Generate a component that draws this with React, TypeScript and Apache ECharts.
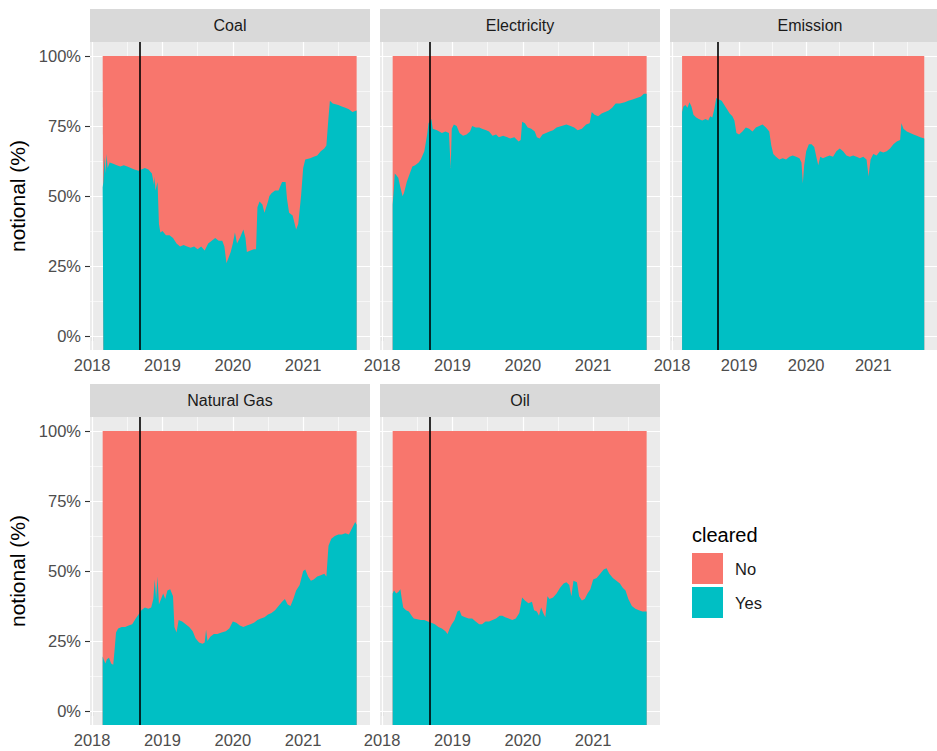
import React, { useEffect, useRef } from "react";
import * as echarts from "echarts";

// ---------- data ----------
const panelNames = ["Coal", "Electricity", "Emission", "Natural Gas", "Oil"];
const legendNames = ["No", "Yes"];
const legendTitle = "cleared";
const yAxisTitle = "notional (%)";
const yearTicks = [2018, 2019, 2020, 2021];
const yearMinor = [2018.5, 2019.5, 2020.5, 2021.5];
const pctTicks = [0, 25, 50, 75, 100];
const pctMinor = [12.5, 37.5, 62.5, 87.5];
const eventYear = 2018.68;

// share of notional that was cleared ("Yes"), [decimal year, %]
const coalYes: [number, number][] = [
  [2018.15, 53], [2018.16, 55], [2018.175, 64], [2018.19, 58], [2018.205, 65], [2018.22, 60],
  [2018.25, 62], [2018.3, 61.5], [2018.35, 61], [2018.4, 60.5], [2018.45, 61], [2018.5, 60.5],
  [2018.55, 60], [2018.6, 59.5], [2018.66, 59], [2018.7, 59.5], [2018.75, 60], [2018.8, 59.5],
  [2018.85, 58], [2018.88, 54], [2018.89, 57], [2018.9, 52], [2018.93, 55], [2018.95, 40],
  [2018.97, 37], [2019.0, 37.5], [2019.05, 36], [2019.1, 36], [2019.15, 35], [2019.2, 33],
  [2019.25, 32], [2019.3, 32.5], [2019.35, 32], [2019.4, 31.5], [2019.45, 32], [2019.5, 31],
  [2019.55, 32], [2019.6, 30.5], [2019.65, 33], [2019.7, 34], [2019.75, 35], [2019.8, 34],
  [2019.85, 34], [2019.88, 32], [2019.91, 26], [2019.94, 28], [2019.97, 30], [2020.0, 33],
  [2020.03, 37], [2020.06, 33], [2020.1, 35], [2020.15, 38], [2020.18, 35], [2020.2, 30],
  [2020.25, 30.5], [2020.3, 31], [2020.33, 31], [2020.35, 46], [2020.38, 48], [2020.42, 47],
  [2020.45, 44], [2020.5, 48], [2020.52, 50], [2020.55, 51], [2020.6, 52], [2020.65, 52],
  [2020.7, 55], [2020.75, 55], [2020.77, 49], [2020.8, 44], [2020.85, 43], [2020.9, 38],
  [2020.93, 40], [2020.97, 50], [2021.0, 60], [2021.03, 63], [2021.1, 63.5], [2021.15, 64],
  [2021.2, 64.5], [2021.25, 66], [2021.3, 67], [2021.33, 68], [2021.36, 78], [2021.38, 84],
  [2021.42, 83], [2021.5, 82.5], [2021.55, 82], [2021.6, 81.5], [2021.65, 81], [2021.7, 80],
  [2021.76, 80.5],
];

const electricityYes: [number, number][] = [
  [2018.15, 47], [2018.165, 52], [2018.18, 58], [2018.2, 57.5], [2018.23, 56.5], [2018.26, 53],
  [2018.29, 50], [2018.31, 51], [2018.35, 55], [2018.4, 58.5], [2018.43, 60.5], [2018.47, 61],
  [2018.52, 62], [2018.55, 63], [2018.6, 66], [2018.64, 72], [2018.66, 76], [2018.7, 77.5],
  [2018.72, 74], [2018.78, 73.5], [2018.85, 72.5], [2018.9, 73], [2018.95, 72.5], [2018.975, 60],
  [2018.99, 74], [2019.02, 75.5], [2019.06, 75], [2019.1, 72.5], [2019.15, 71.5], [2019.2, 72],
  [2019.25, 73], [2019.28, 75], [2019.33, 74.5], [2019.38, 74.5], [2019.42, 74], [2019.48, 73.5],
  [2019.52, 73], [2019.57, 71.5], [2019.62, 72], [2019.66, 71], [2019.72, 71.5], [2019.78, 71],
  [2019.82, 70.5], [2019.88, 71], [2019.94, 69.5], [2019.97, 70], [2019.99, 76.5], [2020.03, 76],
  [2020.07, 74.5], [2020.12, 74], [2020.17, 73], [2020.2, 71], [2020.24, 70.5], [2020.28, 72],
  [2020.33, 72.5], [2020.38, 73], [2020.43, 73.5], [2020.48, 74.5], [2020.55, 75], [2020.62, 75.5],
  [2020.68, 75], [2020.73, 74.5], [2020.78, 73.5], [2020.84, 74], [2020.9, 75.5], [2020.95, 76],
  [2020.98, 80], [2021.02, 79], [2021.07, 78.5], [2021.12, 79.5], [2021.17, 80], [2021.22, 80.5],
  [2021.27, 81.5], [2021.32, 83], [2021.38, 83], [2021.45, 83.5], [2021.5, 84], [2021.56, 84.5],
  [2021.62, 85], [2021.68, 85.5], [2021.72, 86.5], [2021.76, 86.5],
];

const emissionYes: [number, number][] = [
  [2018.15, 80], [2018.17, 82], [2018.2, 82.5], [2018.23, 81.5], [2018.26, 83.5], [2018.29, 82],
  [2018.32, 79], [2018.36, 78], [2018.4, 77.5], [2018.45, 77], [2018.5, 77.5], [2018.54, 77],
  [2018.57, 78.5], [2018.6, 78], [2018.63, 81], [2018.66, 85], [2018.7, 84.5], [2018.74, 84],
  [2018.78, 82.5], [2018.82, 81], [2018.86, 79.5], [2018.9, 78.5], [2018.93, 77], [2018.96, 72.5],
  [2019.0, 72], [2019.05, 73], [2019.1, 74.5], [2019.15, 74], [2019.2, 73], [2019.25, 74.5],
  [2019.3, 75], [2019.35, 75.5], [2019.4, 74.5], [2019.45, 73], [2019.48, 68], [2019.51, 65],
  [2019.55, 64], [2019.6, 63], [2019.65, 63.5], [2019.7, 63], [2019.75, 64], [2019.8, 64.5],
  [2019.85, 64], [2019.9, 63.5], [2019.93, 62], [2019.95, 54.5], [2019.97, 61], [2020.0, 66],
  [2020.04, 68.5], [2020.08, 68.5], [2020.12, 67.5], [2020.16, 63], [2020.18, 61], [2020.21, 64],
  [2020.25, 63.5], [2020.3, 64], [2020.35, 64.5], [2020.4, 64], [2020.45, 66], [2020.5, 67],
  [2020.55, 66], [2020.6, 64.5], [2020.65, 64], [2020.7, 64.5], [2020.75, 64], [2020.8, 63.5],
  [2020.85, 64], [2020.9, 63], [2020.93, 57], [2020.96, 63], [2021.0, 65], [2021.05, 64.5],
  [2021.1, 66], [2021.15, 65.5], [2021.2, 66], [2021.25, 67], [2021.3, 68.5], [2021.35, 69.5],
  [2021.4, 70], [2021.42, 76], [2021.45, 74], [2021.5, 73], [2021.55, 72.5], [2021.6, 72],
  [2021.65, 71.5], [2021.7, 71], [2021.76, 70.5],
];

const naturalGasYes: [number, number][] = [
  [2018.15, 19.5], [2018.17, 18], [2018.19, 17], [2018.21, 18.5], [2018.24, 19], [2018.27, 17],
  [2018.3, 16.5], [2018.32, 22], [2018.34, 28], [2018.37, 29.5], [2018.42, 30], [2018.47, 30],
  [2018.52, 30.5], [2018.57, 31], [2018.62, 33], [2018.66, 34.5], [2018.7, 36], [2018.75, 37],
  [2018.8, 36.5], [2018.84, 37], [2018.87, 40], [2018.89, 47], [2018.91, 40], [2018.93, 48],
  [2018.95, 38], [2018.98, 40], [2019.01, 42], [2019.04, 40], [2019.07, 43], [2019.11, 43.5],
  [2019.15, 41], [2019.17, 30], [2019.2, 28], [2019.23, 32.5], [2019.28, 32], [2019.33, 31],
  [2019.38, 30], [2019.43, 28.5], [2019.47, 26], [2019.52, 24.5], [2019.57, 24], [2019.6, 24.5],
  [2019.62, 29], [2019.64, 25], [2019.68, 26.5], [2019.73, 27.5], [2019.78, 27.5], [2019.84, 28],
  [2019.9, 28.5], [2019.95, 29.5], [2020.0, 32], [2020.05, 31.5], [2020.1, 30.5], [2020.15, 30],
  [2020.2, 30.5], [2020.25, 31], [2020.3, 31.5], [2020.35, 32.5], [2020.4, 33], [2020.45, 33.5],
  [2020.5, 34.5], [2020.55, 35], [2020.6, 36], [2020.65, 37.5], [2020.7, 39], [2020.74, 40],
  [2020.78, 38], [2020.82, 37.5], [2020.86, 40], [2020.9, 43], [2020.95, 45], [2021.0, 50],
  [2021.03, 50.5], [2021.07, 48], [2021.11, 46.5], [2021.15, 47], [2021.2, 48], [2021.25, 48.5],
  [2021.3, 49], [2021.33, 48], [2021.36, 59], [2021.4, 61.5], [2021.45, 62.5], [2021.5, 63],
  [2021.55, 63], [2021.6, 63.5], [2021.65, 63], [2021.7, 65.5], [2021.74, 67.5], [2021.76, 66.5],
];

const oilYes: [number, number][] = [
  [2018.15, 42], [2018.17, 43], [2018.2, 42], [2018.23, 42.5], [2018.26, 43.5], [2018.28, 40],
  [2018.3, 37], [2018.34, 36], [2018.38, 35.5], [2018.42, 34], [2018.45, 33], [2018.5, 32.8],
  [2018.55, 32.5], [2018.6, 32.5], [2018.65, 32], [2018.7, 31.5], [2018.75, 31], [2018.8, 30],
  [2018.85, 29.5], [2018.9, 28.5], [2018.93, 27.5], [2018.96, 29.5], [2018.99, 31], [2019.03, 32.5],
  [2019.07, 35.5], [2019.1, 36], [2019.13, 34], [2019.18, 33.5], [2019.23, 33], [2019.28, 33],
  [2019.33, 32], [2019.38, 31], [2019.42, 31], [2019.47, 32], [2019.52, 32], [2019.57, 32.5],
  [2019.62, 33], [2019.67, 34], [2019.71, 34], [2019.75, 33.5], [2019.8, 33], [2019.85, 32.5],
  [2019.9, 33], [2019.95, 35], [2019.99, 40.5], [2020.03, 39.5], [2020.08, 38.5], [2020.13, 39],
  [2020.16, 36], [2020.2, 35.5], [2020.23, 34], [2020.26, 37], [2020.29, 35], [2020.32, 33.5],
  [2020.35, 41], [2020.38, 40], [2020.43, 40.5], [2020.48, 42], [2020.53, 44], [2020.58, 45.5],
  [2020.62, 46], [2020.66, 45], [2020.69, 41], [2020.72, 46.5], [2020.77, 46], [2020.8, 41],
  [2020.84, 39.5], [2020.88, 40], [2020.92, 42], [2020.96, 43.5], [2021.0, 47], [2021.05, 47.5],
  [2021.1, 49], [2021.15, 50.5], [2021.19, 51], [2021.23, 49], [2021.28, 47.5], [2021.33, 46.5],
  [2021.38, 45.5], [2021.42, 44], [2021.46, 43], [2021.5, 40], [2021.55, 37.5], [2021.6, 36.5],
  [2021.65, 36], [2021.7, 35.5], [2021.76, 35.5],
];

const panelData = [coalYes, electricityYes, emissionYes, naturalGasYes, oilYes];

// ---------- layout / style ----------
const COL_LEFT = [90, 380, 670];
const ROW_TOP = [42, 417];
const PANEL_W = 280;
const PANEL_H = 308;
const STRIP_H = 33;
const COLOR_NO = "#F8766D";
const COLOR_YES = "#00BFC4";
const FONT = "'Liberation Sans', Arial, Helvetica, sans-serif";

export default function App() {
  const ref = useRef<HTMLDivElement>(null);

  useEffect(() => {
    if (!ref.current) return;
    const chart = echarts.init(ref.current, undefined, { renderer: "svg" });

    const grids: any[] = [];
    const xAxes: any[] = [];
    const yAxes: any[] = [];
    const series: any[] = [];
    const graphics: any[] = [];

    panelNames.forEach((name, i) => {
      const col = i % 3;
      const row = Math.floor(i / 3);
      const left = COL_LEFT[col];
      const top = ROW_TOP[row];
      grids.push({
        left,
        top,
        width: PANEL_W,
        height: PANEL_H,
        show: true,
        backgroundColor: "#EBEBEB",
        borderWidth: 0,
        containLabel: false,
      });
      xAxes.push({
        type: "value",
        gridIndex: i,
        min: 2017.97,
        max: 2021.95,
        axisLine: { show: false },
        splitLine: { show: false },
        axisTick: {
          show: true,
          customValues: yearTicks,
          length: 5,
          lineStyle: { color: "#333333", width: 1.1 },
        },
        axisLabel: {
          show: true,
          customValues: yearTicks,
          formatter: (v: number) => String(Math.round(v)),
          color: "#4D4D4D",
          fontSize: 16.5,
          fontFamily: FONT,
          margin: 6,
        },
      });
      const isLeft = col === 0;
      yAxes.push({
        type: "value",
        gridIndex: i,
        min: -5,
        max: 105,
        axisLine: { show: false },
        splitLine: { show: false },
        axisTick: {
          show: isLeft,
          customValues: pctTicks,
          length: 5,
          lineStyle: { color: "#333333", width: 1.1 },
        },
        axisLabel: {
          show: isLeft,
          customValues: pctTicks,
          formatter: (v: number) => `${v}%`,
          color: "#4D4D4D",
          fontSize: 16.5,
          fontFamily: FONT,
          margin: 9,
        },
        name: isLeft ? yAxisTitle : "",
        nameLocation: "middle",
        nameRotate: 90,
        nameGap: 62,
        nameTextStyle: { fontSize: 21, color: "#000000", fontFamily: FONT },
      });

      const yes = panelData[i];
      const no = yes.map(([x, y]) => [x, 100 - y]);
      // top edge of the "No" band = Yes + No share
      const total = yes.map(([x, y], k) => [x, y + no[k][1]]);

      const white = (w: number) => ({ color: "#FFFFFF", width: w, type: "solid" });
      series.push({
        type: "line",
        name: "grid",
        xAxisIndex: i,
        yAxisIndex: i,
        data: [],
        silent: true,
        z: 1,
        markLine: {
          silent: true,
          z: 1,
          symbol: ["none", "none"],
          label: { show: false },
          data: [
            ...yearMinor.map((v) => ({ xAxis: v, lineStyle: white(0.6) })),
            ...pctMinor.map((v) => ({ yAxis: v, lineStyle: white(0.6) })),
            ...yearTicks.map((v) => ({ xAxis: v, lineStyle: white(1.2) })),
            ...pctTicks.map((v) => ({ yAxis: v, lineStyle: white(1.2) })),
          ],
        },
      });

      series.push({
        type: "line",
        name: "No",
        xAxisIndex: i,
        yAxisIndex: i,
        data: total,
        symbol: "none",
        showSymbol: false,
        color: COLOR_NO,
        itemStyle: { color: COLOR_NO },
        lineStyle: { width: 0, color: COLOR_NO },
        areaStyle: { color: COLOR_NO, opacity: 1, origin: "start" },
        z: 2,
        silent: true,
      });
      series.push({
        type: "line",
        name: "Yes",
        xAxisIndex: i,
        yAxisIndex: i,
        data: yes,
        symbol: "none",
        showSymbol: false,
        color: COLOR_YES,
        itemStyle: { color: COLOR_YES },
        lineStyle: { width: 0, color: COLOR_YES },
        areaStyle: { color: COLOR_YES, opacity: 1, origin: "start" },
        z: 3,
        silent: true,
      });
      series.push({
        type: "line",
        name: "event",
        xAxisIndex: i,
        yAxisIndex: i,
        data: [],
        silent: true,
        z: 4,
        markLine: {
          silent: true,
          z: 10,
          symbol: ["none", "none"],
          label: { show: false },
          data: [{ xAxis: eventYear, lineStyle: { color: "#000000", width: 1.6, type: "solid" } }],
        },
      });

      graphics.push({
        type: "rect",
        shape: { x: left, y: top - STRIP_H, width: PANEL_W, height: STRIP_H },
        style: { fill: "#D9D9D9" },
        silent: true,
      });
      graphics.push({
        type: "text",
        x: left + PANEL_W / 2,
        y: top - STRIP_H / 2,
        style: {
          text: name,
          fill: "#1A1A1A",
          fontSize: 16,
          fontFamily: FONT,
          align: "center",
          verticalAlign: "middle",
        },
        silent: true,
      });
    });

    graphics.push({
      type: "text",
      x: 692,
      y: 535,
      style: {
        text: legendTitle,
        fill: "#000000",
        fontSize: 20,
        fontFamily: FONT,
        align: "left",
        verticalAlign: "middle",
      },
      silent: true,
    });

    chart.setOption({
      animation: false,
      backgroundColor: "#FFFFFF",
      grid: grids,
      xAxis: xAxes,
      yAxis: yAxes,
      series,
      graphic: graphics,
      legend: {
        data: legendNames,
        orient: "vertical",
        left: 692,
        top: 553,
        padding: 0,
        itemWidth: 31,
        itemHeight: 31,
        itemGap: 3,
        icon: "rect",
        selectedMode: false,
        textStyle: { fontSize: 16.5, color: "#1A1A1A", fontFamily: FONT, padding: [0, 0, 0, 7] },
      },
    });

    return () => chart.dispose();
  }, []);

  return (
    <div
      ref={ref}
      style={{ position: "absolute", left: 0, top: 0, width: 937, height: 751, background: "#FFFFFF" }}
    />
  );
}
